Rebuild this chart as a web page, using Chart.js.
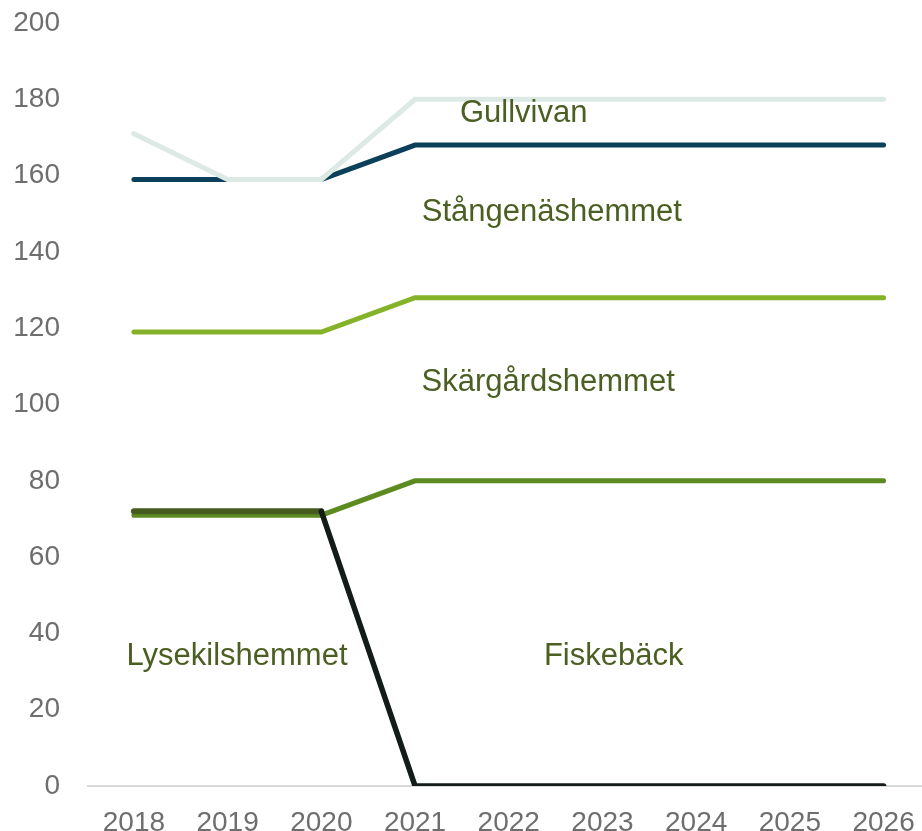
<!DOCTYPE html>
<html>
<head>
<meta charset="utf-8">
<script src="https://cdn.jsdelivr.net/npm/chart.js@4"></script>
<style>
  html, body { margin: 0; padding: 0; background: #ffffff; }
  #wrap { width: 922px; height: 831px; }
</style>
</head>
<body>
<div id="wrap"><canvas id="chartPlatser" width="922" height="831"></canvas></div>
<script>
const years = [2018, 2019, 2020, 2021, 2022, 2023, 2024, 2025, 2026];
const gullvivan = [171, 159, 159, 180, 180, 180, 180, 180, 180];
const stangenas = [159, 159, 159, 168, 168, 168, 168, 168, 168];
const skargard = [119, 119, 119, 128, 128, 128, 128, 128, 128];
const fiskeback = [71, 71, 71, 80, 80, 80, 80, 80, 80];
const lysekil = [72, 72, 72, 0, 0, 0, 0, 0, 0];
const yTicks = [0, 20, 40, 60, 80, 100, 120, 140, 160, 180, 200];

// namnetiketter inne i diagrammet (år, värde)
const seriesLabels = [
    { text: "Gullvivan", x: 2022.16, y: 176.2 },
    { text: "Stångenäshemmet", x: 2022.46, y: 150.4 },
    { text: "Skärgårdshemmet", x: 2022.42, y: 105.8 },
    { text: "Lysekilshemmet", x: 2019.1, y: 33.9 },
    { text: "Fiskebäck", x: 2023.12, y: 33.9 }
];

function pts(values) {
    return values.map((v, i) => ({ x: years[i], y: v }));
}

const labelPlugin = {
    id: "seriesLabels",
    afterDatasetsDraw(chart) {
        const ctx = chart.ctx;
        const xs = chart.scales.x, ys = chart.scales.y;
        ctx.save();
        ctx.font = "31px 'Liberation Sans', Arial, sans-serif";
        ctx.fillStyle = "#4b5f22";
        ctx.textAlign = "center";
        ctx.textBaseline = "middle";
        seriesLabels.forEach(l => {
            ctx.fillText(l.text, xs.getPixelForValue(l.x), ys.getPixelForValue(l.y));
        });
        ctx.restore();
    }
};

const common = { pointRadius: 0, tension: 0, borderWidth: 5, borderCapStyle: "round", borderJoinStyle: "miter", fill: false };

new Chart(document.getElementById("chartPlatser"), {
    type: "line",
    data: {
        datasets: [
            Object.assign({ label: "Lysekilshemmet", data: pts(lysekil), borderColor: "#475a20", order: 1,
                segment: {
                    borderColor: c => c.p0DataIndex >= 2 ? "#131c17" : "#475a20",
                    borderWidth: c => c.p0DataIndex >= 2 ? 5.5 : 6
                } }, common, { borderWidth: 6 }),
            Object.assign({ label: "Fiskebäck", data: pts(fiskeback), borderColor: "#5e8a22", order: 2 }, common),
            Object.assign({ label: "Skärgårdshemmet", data: pts(skargard), borderColor: "#86b22a", order: 3 }, common),
            Object.assign({ label: "Gullvivan", data: pts(gullvivan), borderColor: "#dde9e5", order: 4 }, common),
            Object.assign({ label: "Stångenäshemmet", data: pts(stangenas), borderColor: "#0c3f5a", order: 5 }, common)
        ]
    },
    options: {
        responsive: false,
        animation: false,
        layout: { padding: { top: 23, right: 0, left: 0, bottom: 0 } },
        plugins: { legend: { display: false }, tooltip: { enabled: false } },
        scales: {
            x: {
                type: "linear",
                min: 2017.51,
                max: 2026.41,
                afterBuildTicks: axis => { axis.ticks = years.map(v => ({ value: v })); },
                ticks: {
                    callback: v => String(v),
                    color: "#6e6e6e",
                    font: { family: "'Liberation Sans', Arial, sans-serif", size: 28 },
                    padding: 20,
                    maxRotation: 0
                },
                grid: { display: false, drawTicks: false },
                border: { display: true, color: "#d9d9d9", width: 2 },
                afterFit: axis => {
                    axis.height = 45;
                    axis.paddingLeft = 0;
                    axis.paddingRight = 0;
                }
            },
            y: {
                min: 0,
                max: 200,
                afterBuildTicks: axis => { axis.ticks = yTicks.map(v => ({ value: v })); },
                ticks: {
                    color: "#6e6e6e",
                    font: { family: "'Liberation Sans', Arial, sans-serif", size: 28 },
                    padding: 28
                },
                grid: { display: false, drawTicks: false },
                border: { display: false },
                afterFit: axis => {
                    axis.width = 88;
                    axis.paddingTop = 0;
                    axis.paddingBottom = 0;
                }
            }
        }
    },
    plugins: [labelPlugin]
});
</script>
</body>
</html>
